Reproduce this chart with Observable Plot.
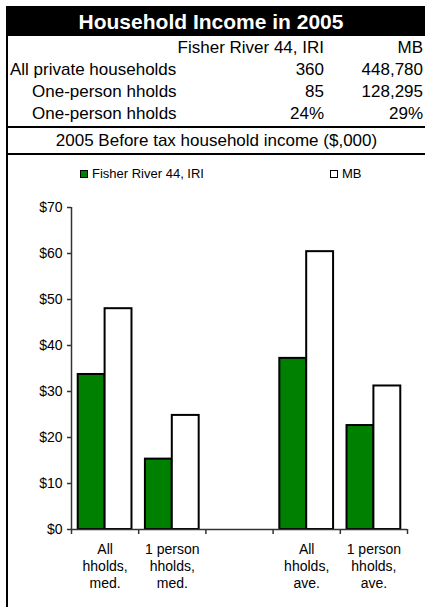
<!DOCTYPE html>
<html>
<head>
<meta charset="utf-8">
<script src="https://cdn.jsdelivr.net/npm/d3@7"></script>
<script src="https://cdn.jsdelivr.net/npm/@observablehq/plot@0.6"></script>
<style>
html, body { margin: 0; padding: 0; background: #fff; }
body { font-family: "Liberation Sans", Arial, sans-serif; color: #000; }
#wrap { position: relative; width: 425px; height: 607px; overflow: hidden; }
.abs { position: absolute; }
#title { left: 6px; top: 6px; width: 419px; height: 30px; line-height: 31px; box-sizing: border-box; padding-right: 9px; background: #000; color: #fff; font-weight: bold; font-size: 21px; text-align: center; white-space: nowrap; }
#leftBorder { left: 6px; top: 6px; width: 2px; height: 601px; background: #000; }
.hline { left: 6px; width: 419px; height: 2px; background: #000; }
.row { position: absolute; left: 8px; width: 417px; height: 22px; line-height: 22px; font-size: 17px; white-space: nowrap; }
.row .c1 { position: absolute; left: 2px; }
.row .c1.ind { left: 24px; }
.row .c2 { position: absolute; right: 101px; }
.row .c3 { position: absolute; right: 2px; }
#subtitle { left: 8px; width: 417px; top: 130px; height: 22px; line-height: 22px; font-size: 17px; text-align: center; white-space: nowrap; }
.leg { position: absolute; top: 166px; height: 16px; line-height: 16px; font-size: 13px; white-space: nowrap; }
.leg .sw { position: absolute; left: 0; top: 4px; width: 6px; height: 6px; border: 1.5px solid #000; }
.leg .lt { position: absolute; left: 12px; top: 0; }
#chart { left: 0; top: 155px; }
</style>
</head>
<body>
<div id="wrap"></div>
<script>
// ---- data ----
const title = "Household Income in 2005";
const tableHeader = ["", "Fisher River 44, IRI", "MB"];
const tableLabels = ["All private households", "One-person hholds", "One-person hholds"];
const fisherTable = ["360", "85", "24%"];
const mbTable = ["448,780", "128,295", "29%"];
const subtitle = "2005 Before tax household income ($,000)";
const seriesNames = ["Fisher River 44, IRI", "MB"];
const seriesColors = ["#008000", "#ffffff"];
const categories = ["All\nhholds,\nmed.", "1 person\nhholds,\nmed.", "", "All\nhholds,\nave.", "1 person\nhholds,\nave."];
const fisherValues = [33.7, 15.3, null, 37.2, 22.6];
const mbValues = [48.0, 24.8, null, 60.4, 31.2];
const yTicks = [0, 10, 20, 30, 40, 50, 60, 70];

// ---- layout ----
const wrap = document.getElementById("wrap");
function add(cls, id, html, top) {
  const d = document.createElement("div");
  d.className = cls;
  if (id) d.id = id;
  if (html != null) d.textContent = html;
  if (top != null) d.style.top = top + "px";
  wrap.appendChild(d);
  return d;
}
add("abs", "leftBorder");
add("abs", "title", title);

const rowTops = [37, 59, 81, 103];
const rows = [tableHeader].concat(tableLabels.map((l, i) => [l, fisherTable[i], mbTable[i]]));
rows.forEach((r, i) => {
  const row = add("row", null, null, rowTops[i]);
  const c1 = document.createElement("span"); c1.className = "c1" + (i >= 2 ? " ind" : ""); c1.textContent = r[0];
  const c2 = document.createElement("span"); c2.className = "c2"; c2.textContent = r[1];
  const c3 = document.createElement("span"); c3.className = "c3"; c3.textContent = r[2];
  row.append(c1, c2, c3);
});
add("abs hline", null, null, 126);
add("abs", "subtitle", subtitle);
add("abs hline", null, null, 153);

// ---- chart ----
const data = [];
categories.forEach((c, i) => {
  if (fisherValues[i] != null) data.push({cat: i, s: 0, v: fisherValues[i]});
  if (mbValues[i] != null) data.push({cat: i, s: 1, v: mbValues[i]});
});
const bounds = d3.range(categories.length + 1);
const labels = categories.map((c, i) => ({i, label: c}));

const chart = Plot.plot({
  width: 425,
  height: 452,
  marginLeft: 71,
  marginRight: 18,
  marginTop: 52,
  marginBottom: 78,
  style: {fontFamily: "'Liberation Sans', Arial, sans-serif", fontSize: "14px", background: "transparent", color: "#000"},
  x: {type: "linear", domain: [0, categories.length], axis: null},
  y: {domain: [0, 70], axis: null},
  marks: [
    Plot.rectY(data, {
      x1: d => d.cat + 0.1 + d.s * 0.4,
      x2: d => d.cat + 0.1 + (d.s + 1) * 0.4,
      y1: 0,
      y2: "v",
      fill: d => seriesColors[d.s],
      stroke: "#000",
      strokeWidth: 2
    }),
    Plot.axisY({ticks: yTicks, tickFormat: d => "$" + d, tickSize: 4, tickPadding: 5, fontSize: 14, stroke: "#333", strokeWidth: 1.5, label: null}),
    Plot.ruleX([0], {y1: 0, y2: 70, stroke: "#333", strokeWidth: 1.5}),
    Plot.ruleY([0], {x1: 0, x2: categories.length, stroke: "#333", strokeWidth: 1.5}),
    Plot.axisX({ticks: bounds, tickFormat: () => "", tickSize: 5, stroke: "#333", strokeWidth: 1.5, label: null}),
    Plot.text(labels, {x: d => d.i + 0.5, y: 0, text: "label", lineAnchor: "top", dy: 12, fontSize: 14, lineHeight: 1.22, fill: "#000"})
  ]
});
chart.classList.add("abs");
chart.id = "chart";
wrap.appendChild(chart);

// ---- legend ----
const legLefts = [80, 330];
seriesNames.forEach((name, i) => {
  const l = document.createElement("div");
  l.className = "leg";
  l.style.left = legLefts[i] + "px";
  const sw = document.createElement("span"); sw.className = "sw"; sw.style.background = seriesColors[i];
  const t = document.createElement("span"); t.className = "lt"; t.textContent = name;
  l.append(sw, t);
  wrap.appendChild(l);
});
</script>
</body>
</html>
